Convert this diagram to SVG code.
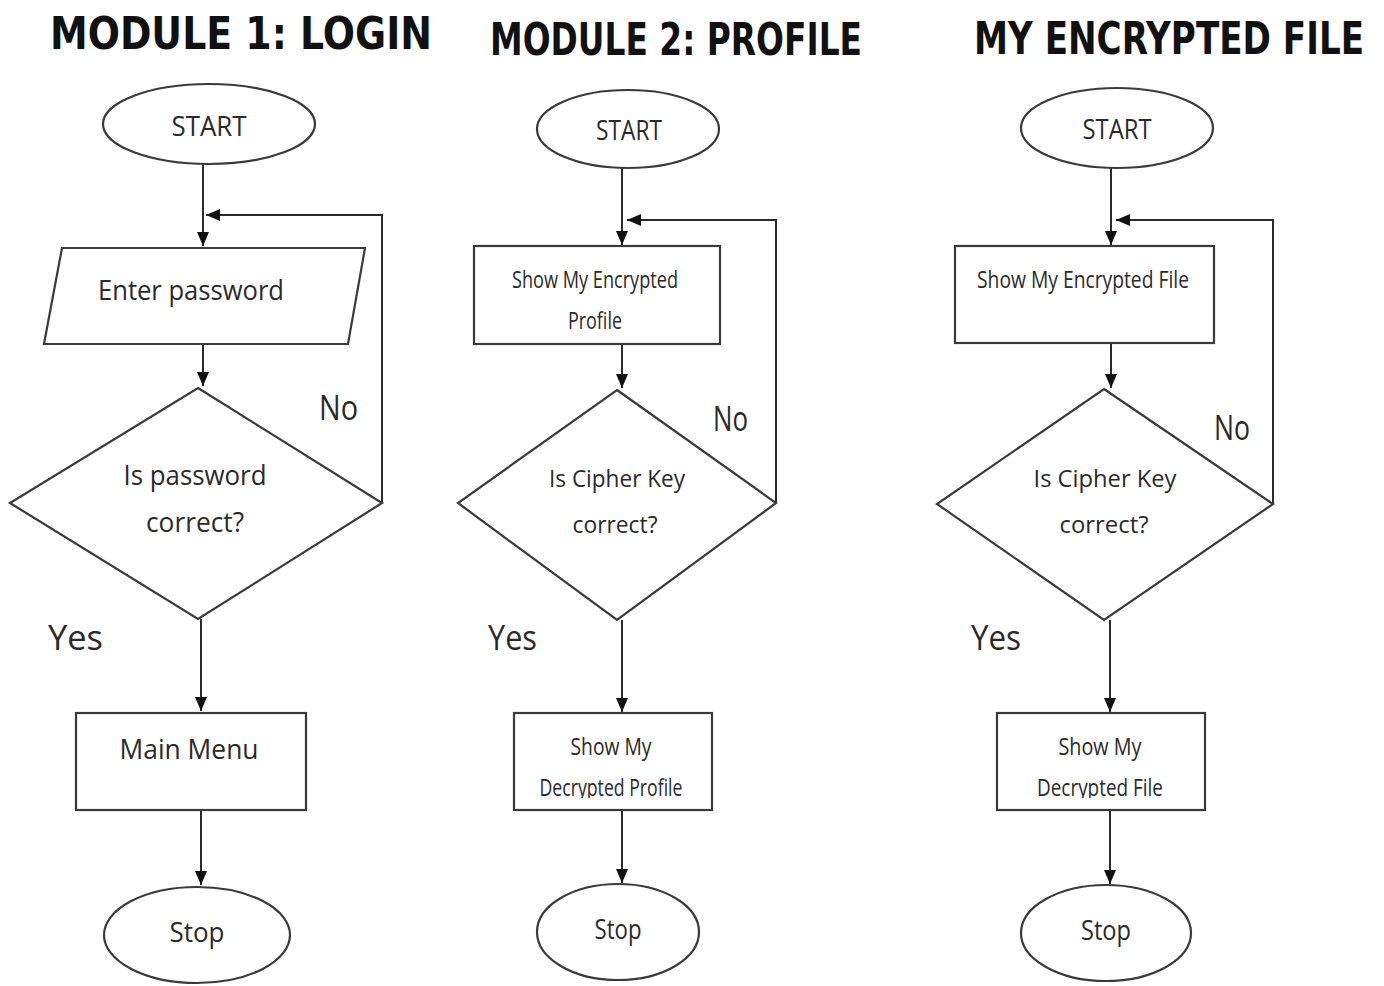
<svg xmlns="http://www.w3.org/2000/svg" width="1384" height="986" viewBox="0 0 1384 986">
<defs>
<style>
.title{font-family:"DejaVu Sans",Verdana,sans-serif;font-weight:bold;font-size:44px;fill:#111}
.shape{fill:#fff;stroke:#3a3a3a;stroke-width:2.2}
.t{font-family:"Open Sans","Noto Sans",sans-serif;font-size:28px;fill:#2a2a2a;text-anchor:middle}
.s{font-family:"Open Sans","Noto Sans",sans-serif;font-size:24px;fill:#2a2a2a;text-anchor:middle}
.lbl{font-family:"Open Sans","Noto Sans",sans-serif;font-size:34px;fill:#2a2a2a}
.c{fill:none;stroke:#2a2a2a;stroke-width:2}
</style>
<marker id="arr" markerWidth="14" markerHeight="12" refX="14" refY="6" orient="auto" markerUnits="userSpaceOnUse">
<path d="M0,0 L14,6 L0,12 Z" fill="#111"/>
</marker>
<clipPath id="clipDec"><rect x="0" y="760" width="1384" height="38"/></clipPath>
</defs>
<rect width="1384" height="986" fill="#fff"/>

<g id="titles">
<text class="title" x="50" y="49" textLength="382" lengthAdjust="spacingAndGlyphs">MODULE 1: LOGIN</text>
<text class="title" x="490" y="55" textLength="372" lengthAdjust="spacingAndGlyphs">MODULE 2: PROFILE</text>
<text class="title" x="974" y="54" textLength="390" lengthAdjust="spacingAndGlyphs">MY ENCRYPTED FILE</text>
</g>

<g id="connectors">
<!-- module 1 -->
<path class="c" d="M203,164 L203,246" marker-end="url(#arr)"/>
<path class="c" d="M203,344 L203,386" marker-end="url(#arr)"/>
<path class="c" d="M382,503 L382,215 L206,215" marker-end="url(#arr)"/>
<path class="c" d="M201,619 L201,711" marker-end="url(#arr)"/>
<path class="c" d="M201,810 L201,885" marker-end="url(#arr)"/>
<!-- module 2 -->
<path class="c" d="M622,168 L622,245" marker-end="url(#arr)"/>
<path class="c" d="M622,344 L622,388" marker-end="url(#arr)"/>
<path class="c" d="M776,503 L776,220 L627,220" marker-end="url(#arr)"/>
<path class="c" d="M622,620 L622,712" marker-end="url(#arr)"/>
<path class="c" d="M622,810 L622,883" marker-end="url(#arr)"/>
<!-- module 3 -->
<path class="c" d="M1111,167 L1111,245" marker-end="url(#arr)"/>
<path class="c" d="M1111,343 L1111,388" marker-end="url(#arr)"/>
<path class="c" d="M1273,504 L1273,220 L1116,220" marker-end="url(#arr)"/>
<path class="c" d="M1110,620 L1110,712" marker-end="url(#arr)"/>
<path class="c" d="M1110,810 L1110,884" marker-end="url(#arr)"/>
</g>

<!-- Module 1 -->
<g id="m1-start">
<ellipse class="shape" cx="209" cy="124" rx="106" ry="40"/>
<text class="t" x="209" y="136" textLength="75" lengthAdjust="spacingAndGlyphs">START</text>
</g>
<g id="m1-input">
<polygon class="shape" points="62,248 365,248 348,344 44,344"/>
<text class="t" x="191" y="300" textLength="186" lengthAdjust="spacingAndGlyphs">Enter password</text>
</g>
<g id="m1-decision">
<polygon class="shape" points="198,388 382,503 198,619 10,503"/>
<text class="t" x="195" y="485" textLength="143" lengthAdjust="spacingAndGlyphs">Is password</text>
<text class="t" x="195" y="532" textLength="98" lengthAdjust="spacingAndGlyphs">correct?</text>
</g>
<g id="m1-labels">
<text class="lbl" x="319" y="420" textLength="39" lengthAdjust="spacingAndGlyphs">No</text>
<text class="lbl" x="48" y="650" textLength="55" lengthAdjust="spacingAndGlyphs">Yes</text>
</g>
<g id="m1-menu">
<rect class="shape" x="76" y="713" width="230" height="97"/>
<text class="t" x="189" y="759" textLength="139" lengthAdjust="spacingAndGlyphs">Main Menu</text>
</g>
<g id="m1-stop">
<ellipse class="shape" cx="197" cy="935" rx="93" ry="48"/>
<text class="t" x="197" y="942" textLength="55" lengthAdjust="spacingAndGlyphs">Stop</text>
</g>

<!-- Module 2 -->
<g id="m2-start">
<ellipse class="shape" cx="628" cy="129" rx="91" ry="39"/>
<text class="t" x="629" y="140" textLength="66" lengthAdjust="spacingAndGlyphs">START</text>
</g>
<g id="m2-show">
<rect class="shape" x="474" y="246" width="246" height="98"/>
<text class="s" x="595" y="288" textLength="166" lengthAdjust="spacingAndGlyphs">Show My Encrypted</text>
<text class="s" x="595" y="329" textLength="54" lengthAdjust="spacingAndGlyphs">Profile</text>
</g>
<g id="m2-decision">
<polygon class="shape" points="617,390 776,503 617,620 458,503"/>
<text class="s" x="617" y="487" textLength="136" lengthAdjust="spacingAndGlyphs">Is Cipher Key</text>
<text class="s" x="615" y="533" textLength="85" lengthAdjust="spacingAndGlyphs">correct?</text>
</g>
<g id="m2-labels">
<text class="lbl" x="713" y="431" textLength="35" lengthAdjust="spacingAndGlyphs">No</text>
<text class="lbl" x="488" y="650" textLength="49" lengthAdjust="spacingAndGlyphs">Yes</text>
</g>
<g id="m2-decrypted">
<rect class="shape" x="514" y="713" width="198" height="97"/>
<text class="s" x="611" y="755" textLength="81" lengthAdjust="spacingAndGlyphs">Show My</text>
<text class="s" x="611" y="796" textLength="143" lengthAdjust="spacingAndGlyphs" clip-path="url(#clipDec)">Decrypted Profile</text>
</g>
<g id="m2-stop">
<ellipse class="shape" cx="618" cy="932" rx="81" ry="48"/>
<text class="t" x="618" y="939" textLength="47" lengthAdjust="spacingAndGlyphs">Stop</text>
</g>

<!-- Module 3 -->
<g id="m3-start">
<ellipse class="shape" cx="1117" cy="128" rx="96" ry="40"/>
<text class="t" x="1117" y="139" textLength="69" lengthAdjust="spacingAndGlyphs">START</text>
</g>
<g id="m3-show">
<rect class="shape" x="955" y="246" width="259" height="97"/>
<text class="s" x="1083" y="288" textLength="212" lengthAdjust="spacingAndGlyphs">Show My Encrypted File</text>
</g>
<g id="m3-decision">
<polygon class="shape" points="1104,389 1273,504 1104,620 937,504"/>
<text class="s" x="1105" y="487" textLength="143" lengthAdjust="spacingAndGlyphs">Is Cipher Key</text>
<text class="s" x="1104" y="533" textLength="89" lengthAdjust="spacingAndGlyphs">correct?</text>
</g>
<g id="m3-labels">
<text class="lbl" x="1214" y="440" textLength="36" lengthAdjust="spacingAndGlyphs">No</text>
<text class="lbl" x="971" y="650" textLength="50" lengthAdjust="spacingAndGlyphs">Yes</text>
</g>
<g id="m3-decrypted">
<rect class="shape" x="997" y="713" width="208" height="97"/>
<text class="s" x="1100" y="755" textLength="83" lengthAdjust="spacingAndGlyphs">Show My</text>
<text class="s" x="1100" y="796" textLength="126" lengthAdjust="spacingAndGlyphs" clip-path="url(#clipDec)">Decrypted File</text>
</g>
<g id="m3-stop">
<ellipse class="shape" cx="1106" cy="933" rx="85" ry="48"/>
<text class="t" x="1106" y="940" textLength="50" lengthAdjust="spacingAndGlyphs">Stop</text>
</g>
</svg>
